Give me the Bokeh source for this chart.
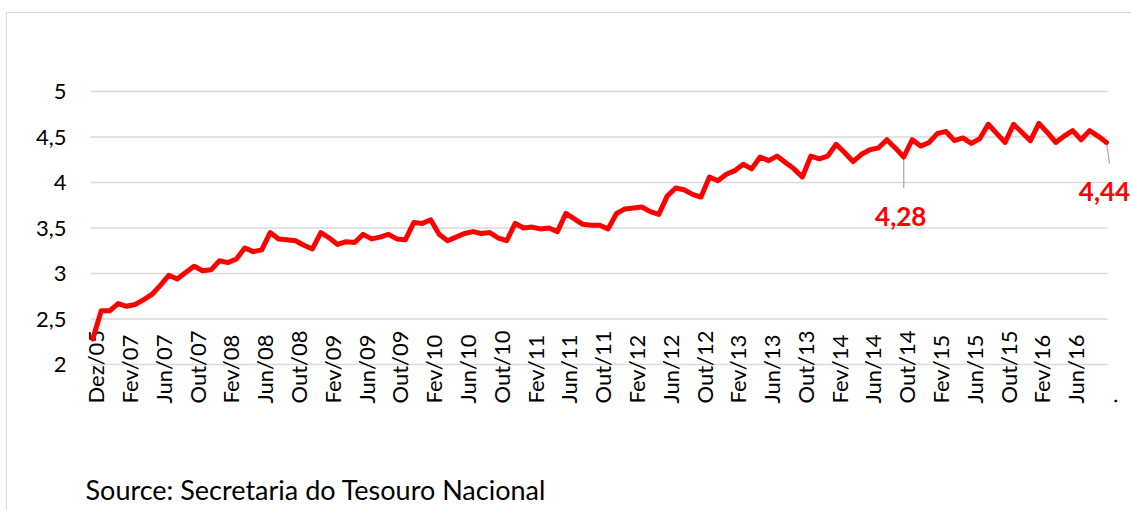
import math
from bokeh.plotting import figure
from bokeh.models import Range1d
from bokeh.embed import file_html
from bokeh.resources import INLINE

# ---- data -------------------------------------------------------------
tick_labels = ["Dez/05", "Fev/07", "Jun/07", "Out/07", "Fev/08", "Jun/08", "Out/08",
               "Fev/09", "Jun/09", "Out/09", "Fev/10", "Jun/10", "Out/10", "Fev/11",
               "Jun/11", "Out/11", "Fev/12", "Jun/12", "Out/12", "Fev/13", "Jun/13",
               "Out/13", "Fev/14", "Jun/14", "Out/14", "Fev/15", "Jun/15", "Out/15",
               "Fev/16", "Jun/16", "."]
tick_step = 4

values = [
    2.28, 2.59, 2.59, 2.67, 2.64, 2.66, 2.71, 2.77, 2.87, 2.98,
    2.94, 3.01, 3.08, 3.03, 3.04, 3.14, 3.12, 3.16, 3.28, 3.24,
    3.26, 3.45, 3.38, 3.37, 3.36, 3.31, 3.27, 3.45, 3.39, 3.32,
    3.35, 3.34, 3.43, 3.38, 3.40, 3.43, 3.38, 3.37, 3.56, 3.55,
    3.59, 3.43, 3.36, 3.40, 3.44, 3.46, 3.44, 3.45, 3.39, 3.36,
    3.55, 3.50, 3.51, 3.49, 3.50, 3.46, 3.66, 3.60, 3.54, 3.53,
    3.53, 3.49, 3.66, 3.71, 3.72, 3.73, 3.68, 3.65, 3.85, 3.94,
    3.92, 3.87, 3.84, 4.06, 4.02, 4.09, 4.13, 4.20, 4.15, 4.28,
    4.24, 4.29, 4.22, 4.15, 4.06, 4.29, 4.26, 4.29, 4.42, 4.33,
    4.23, 4.31, 4.36, 4.38, 4.47, 4.38, 4.28, 4.47, 4.40, 4.44,
    4.54, 4.56, 4.46, 4.49, 4.43, 4.48, 4.64, 4.54, 4.44, 4.64,
    4.55, 4.46, 4.65, 4.55, 4.44, 4.51, 4.57, 4.47, 4.57, 4.51,
    4.44,
]

y_ticks = [2, 2.5, 3, 3.5, 4, 4.5, 5]
y_tick_labels = ["2", "2,5", "3", "3,5", "4", "4,5", "5"]

annotated_points = [96, 120]
source_text = "Source: Secretaria do Tesouro Nacional"

# ---- layout (pixels on the 1131x510 canvas) ----------------------------
W, H = 1131, 510
PL, PR, PT, PB = 90, 1107, 91, 364          # plot area box
X_LO, X_HI = -0.27, 120.12                   # category index at plot-area edges
Y_LO, Y_HI = 2, 5
px_x = (PR - PL) / (X_HI - X_LO)
px_y = (PB - PT) / (Y_HI - Y_LO)


def dx(px):
    return X_LO + (px - PL) / px_x


def dy(py):
    return Y_LO + (PB - py) / px_y


FONT = "Lato"
RED = "#ff0000"
GRID = "#d9d9d9"

p = figure(width=W, height=H, output_backend="svg", toolbar_location=None,
           x_range=Range1d(dx(0), dx(W)), y_range=Range1d(dy(H), dy(0)),
           x_axis_location=None, y_axis_location=None,
           min_border=0)
p.outline_line_color = None
p.background_fill_color = "white"
p.border_fill_color = "white"
p.xgrid.visible = False
p.ygrid.visible = False

# outer chart border (top and left edges in view)
p.segment([dx(6), dx(6)], [dy(12), dy(12)], [dx(W + 5), dx(6)], [dy(12), dy(H + 5)],
          line_color=GRID, line_width=1)

# horizontal gridlines
n = len(y_ticks)
p.segment([X_LO] * n, y_ticks, [X_HI] * n, y_ticks, line_color=GRID, line_width=1.3)

# y tick labels
p.text(x=[dx(66)] * n, y=y_ticks, text=y_tick_labels, text_align="right",
       text_baseline="middle", text_font={"value": FONT}, text_font_size={"value": "22px"},
       text_color="#000000")

# x tick labels (rotated, reading upward, starting at a common line)
ticks = [i * tick_step for i in range(len(tick_labels))]
p.text(x=ticks, y=[dy(403)] * len(ticks), text=tick_labels, angle=math.pi / 2,
       text_align="left", text_baseline="middle", x_offset=3,
       text_font={"value": FONT}, text_font_size={"value": "22px"}, text_color="#000000")

# leader lines for the labelled points
lead_x0, lead_y0, lead_x1, lead_y1 = [], [], [], []
for i, ddx, ddy in zip(annotated_points, [0, 3], [31, 21]):
    lead_x0.append(i)
    lead_y0.append(values[i])
    lead_x1.append(i + ddx / px_x)
    lead_y1.append(values[i] - ddy / px_y)
p.segment(lead_x0, lead_y0, lead_x1, lead_y1, line_color="#a6a6a6", line_width=1.2)

# series
p.line(list(range(len(values))), values, line_color=RED, line_width=5,
       line_join="round", line_cap="round")

# value labels
lab_x, lab_y, lab_t = [], [], []
for i, ddx, ddy in zip(annotated_points, [-3, -2], [50, 40]):
    lab_x.append(i + ddx / px_x)
    lab_y.append(values[i] - ddy / px_y)
    lab_t.append(f"{values[i]:.2f}".replace(".", ","))
p.text(x=lab_x, y=lab_y, text=lab_t, text_align="center", text_baseline="top",
       text_color=RED, text_font={"value": FONT}, text_font_style="bold",
       text_font_size={"value": "26px"})

# source note
p.text(x=[dx(85)], y=[dy(489)], text=[source_text], text_align="left",
       text_baseline="alphabetic", text_color="#000000",
       text_font={"value": FONT}, text_font_size={"value": "27px"})

open("out.html", "w").write(file_html(p, INLINE))
